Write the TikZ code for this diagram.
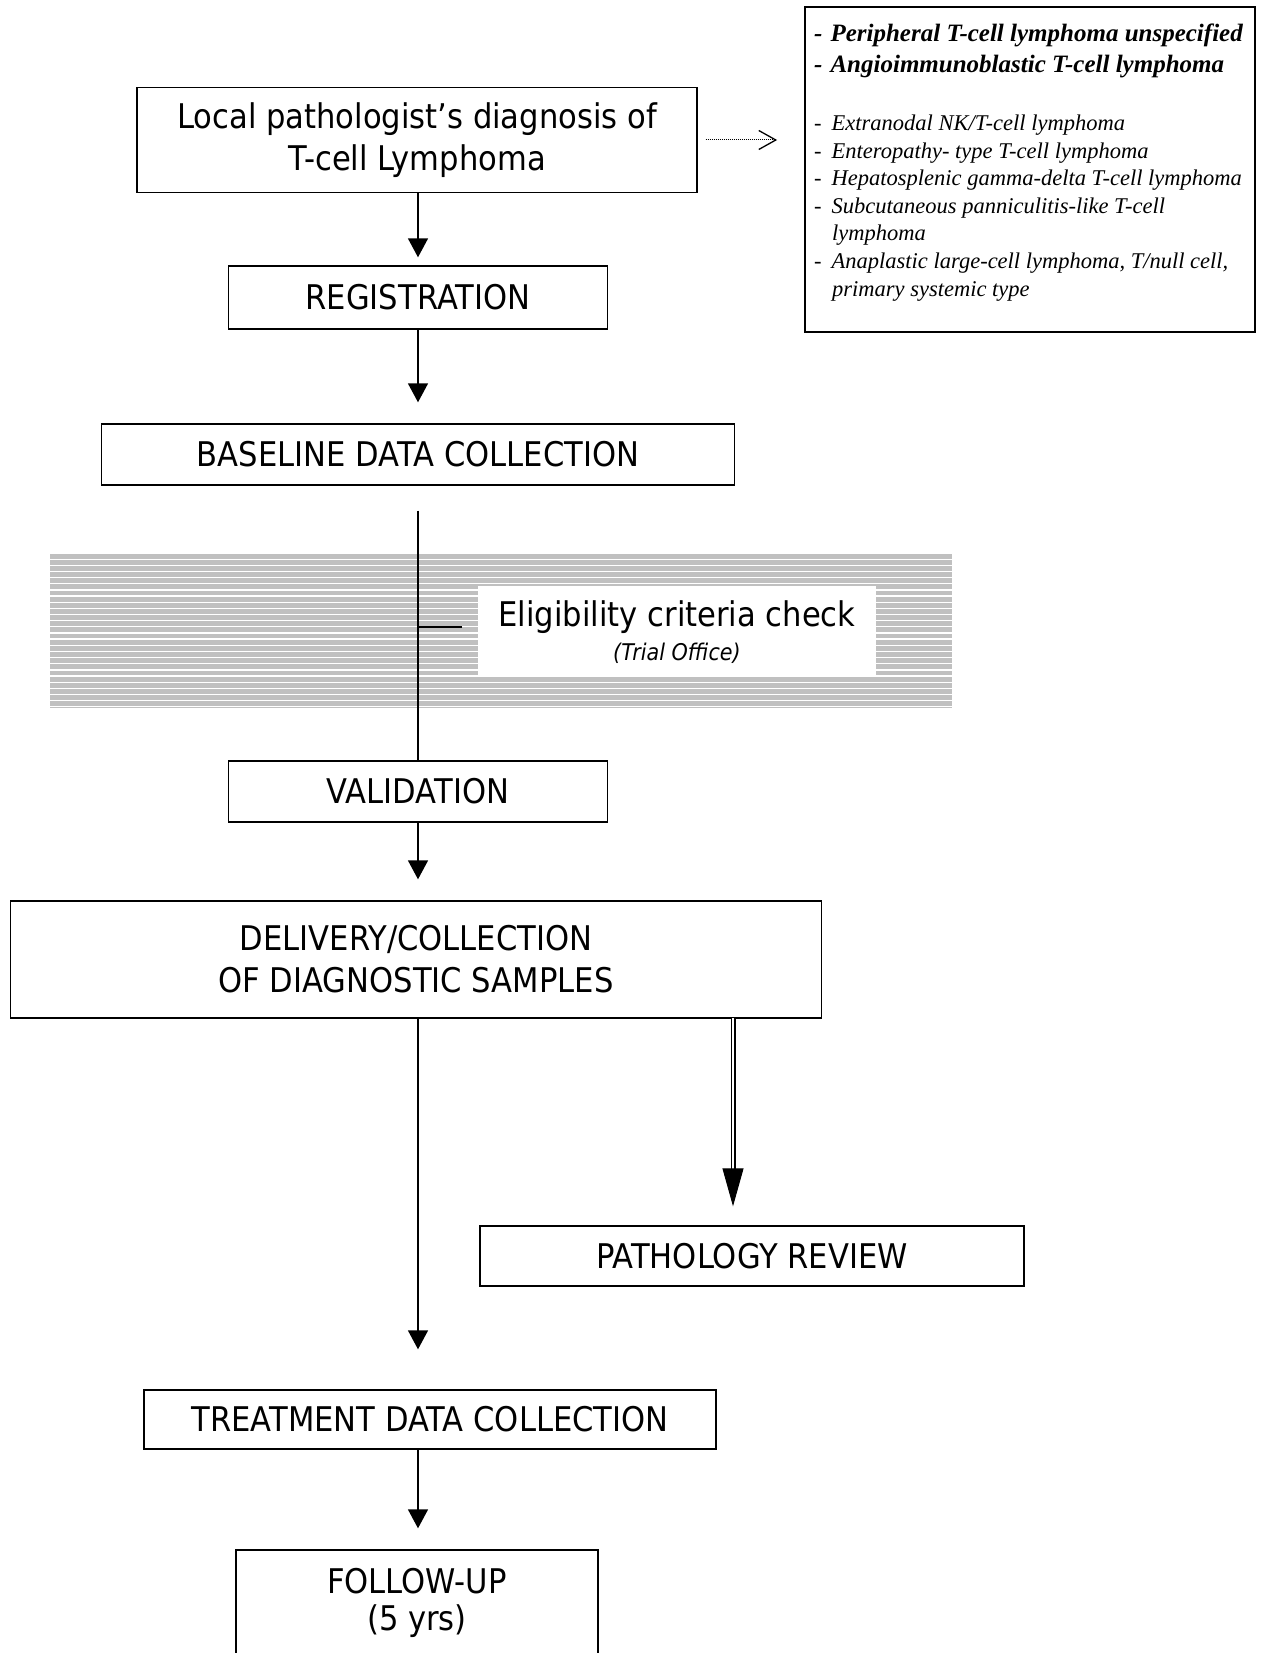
\documentclass[tikz,border=0pt]{standalone}
\usepackage{fontspec}
\setmainfont{DejaVu Sans}[FakeStretch=0.9]
\newfontfamily\listfont{Liberation Serif}
\usetikzlibrary{arrows.meta}
\newcommand\boxfont{\fontsize{34}{42}\selectfont}
\tikzset{
  box/.style={draw, line width=1.4pt, inner sep=0pt, align=center, font=\boxfont},
  conn/.style={line width=1.5pt},
  arr/.style={conn, -{Triangle[width=20pt,length=19pt]}},
  itemline/.style={anchor=base west, inner sep=0pt, font=\listfont\fontsize{22.5}{27}\selectfont\itshape},
  bolditem/.style={anchor=base west, inner sep=0pt, font=\listfont\fontsize{25}{30}\selectfont\bfseries\itshape},
}
\begin{document}
\begin{tikzpicture}[x=1pt,y=-1pt]
\useasboundingbox (0,0) rectangle (1262,1653);
% striped band
\fill[fill={rgb,255:red,192;green,192;blue,192}] (49.5,552) rectangle (952,708);
\foreach \k in {0,...,25} {
  \draw[white, line width=1.3pt] (49.5,553+\k*6.15) -- (952,553+\k*6.15);
}
\node[fill=white, inner sep=0pt, minimum width=398, minimum height=89] (elig) at (677,630.5) {};
\node[inner sep=0pt, font=\boxfont] (eligt) at (677,617) {Eligibility criteria check};
\node[inner sep=0pt, font=\fontsize{23}{28}\selectfont\itshape] (eligo) at (677,653) {(Trial Office)};

% main column
\node[box, minimum width=560, minimum height=104.5] (local) at (417,140) {Local pathologist’s diagnosis of\\T-cell Lymphoma};
\node[box, minimum width=379, minimum height=63] (reg) at (418,297.5) {REGISTRATION};
\node[box, minimum width=633, minimum height=61] (base) at (418,454.5) {BASELINE DATA COLLECTION};
\node[box, minimum width=379, minimum height=61] (val) at (418,791.5) {VALIDATION};
\node[box, minimum width=811.5, minimum height=117] (del) at (416,959.5) {DELIVERY/COLLECTION\\OF DIAGNOSTIC SAMPLES};
\node[box, minimum width=544, minimum height=60] (path) at (752,1256) {PATHOLOGY REVIEW};
\node[box, minimum width=572, minimum height=59] (treat) at (430,1419.5) {TREATMENT DATA COLLECTION};
\node[box, minimum width=362, minimum height=105, font=\fontsize{34}{37}\selectfont] (follow) at (417,1602.5) {FOLLOW-UP\\(5 yrs)};

% list box
\node[draw, line width=1.8pt, minimum width=450, minimum height=325, inner sep=0pt] (list) at (1030,169.5) {};
\node[bolditem] (l1) at (814,42) {-\hspace{8pt}Peripheral T-cell lymphoma unspecified};
\node[bolditem] (l2) at (814,73) {-\hspace{8pt}Angioimmunoblastic T-cell lymphoma};
\node[itemline] (l3) at (814,130.5) {-\hspace{10pt}Extranodal NK/T-cell lymphoma};
\node[itemline] (l4) at (814,158.1) {-\hspace{10pt}Enteropathy- type T-cell lymphoma};
\node[itemline] (l5) at (814,185.7) {-\hspace{10pt}Hepatosplenic gamma-delta T-cell lymphoma};
\node[itemline] (l6) at (814,213.3) {-\hspace{10pt}Subcutaneous panniculitis-like T-cell};
\node[itemline] (l6b) at (832,240.9) {lymphoma};
\node[itemline] (l7) at (814,268.5) {-\hspace{10pt}Anaplastic large-cell lymphoma, T/null cell,};
\node[itemline] (l7b) at (832,296.1) {primary systemic type};

% dotted arrow
\draw[line width=1pt, dash pattern=on 1pt off 1pt, shorten <=8pt, shorten >=27pt,
  -{Straight Barb[length=17pt,width=19pt,line width=1.3pt]}] (local.east) -- (local.east -| list.west);

% connectors
\draw[arr, shorten >=8pt] (local.south -| reg.north) -- (reg.north);
\draw[arr, shorten >=21pt] (reg.south) -- (base.north);
\draw[conn, shorten <=25pt] (base.south) -- (val.north);
\coordinate (tkA) at (418,627);
\coordinate (tkB) at (462,627);
\draw[conn] (tkA) -- (tkB);
\draw[arr, shorten >=21pt] (val.south) -- (val.south |- del.north);
\draw[arr, shorten >=40pt] (del.south -| val.south) -- (val.south |- treat.north);
\coordinate (dA) at (733,1018);
\coordinate (dH) at (733,1176);
\draw[line width=1.3pt, double distance=2.4pt] (dA) -- (dH);
\draw[line width=1pt, shorten >=19pt, -{Triangle[width=21pt,length=38pt]}] (dH) -- (dH |- path.north);
\draw[arr, shorten >=21pt] (treat.south -| val.south) -- (val.south |- follow.north);
\end{tikzpicture}
\end{document}
